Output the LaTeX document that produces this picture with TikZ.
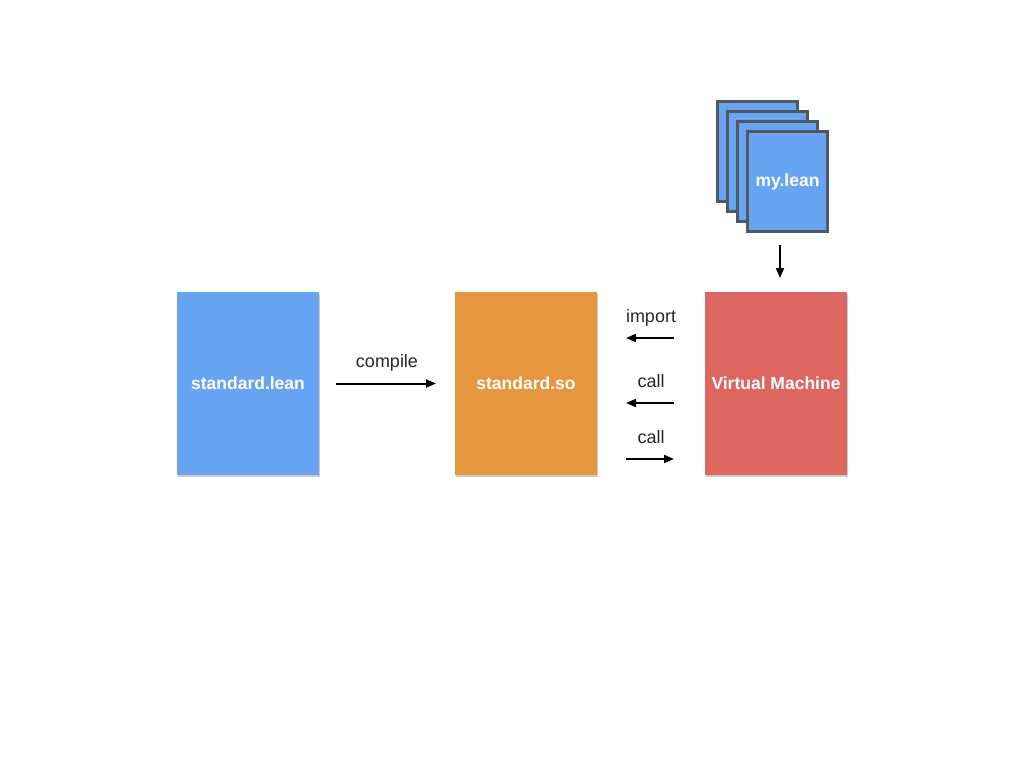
\documentclass[tikz,border=0pt]{standalone}
\usepackage{fontspec}
\setmainfont{Liberation Sans}
\usetikzlibrary{arrows.meta, positioning, shadows}

\definecolor{leanblue}{RGB}{103,164,242}
\definecolor{soorange}{RGB}{230,150,60}
\definecolor{vmred}{RGB}{221,103,96}
\definecolor{pageedge}{RGB}{80,88,98}

\tikzset{
    filebox/.style={rectangle, minimum width=142pt, minimum height=183pt, inner sep=0pt, outer sep=0pt,
        text=white, font=\fontsize{17.5}{20}\selectfont\bfseries,
        drop shadow={shadow xshift=1pt, shadow yshift=-2pt, opacity=0.4}},
    pagebox/.style={rectangle, draw=pageedge, line width=2.2pt, fill=leanblue,
        minimum width=80pt, minimum height=100pt, inner sep=0pt, outer sep=0pt,
        text=white, font=\fontsize{17.5}{20}\selectfont\bfseries},
    arr/.style={-{Triangle[length=10pt, width=8pt]}, line width=2pt},
    lbl/.style={anchor=base, yshift=16pt, font=\fontsize{18}{21}\selectfont, text=black!85}
}

\begin{document}
\begin{tikzpicture}[x=1pt, y=-1pt]
    \useasboundingbox (0,0) rectangle (1024,768);

    % Main boxes
    \node (lean) [filebox, fill=leanblue] at (248,383.5) {standard.lean};
    \node (so) [filebox, fill=soorange, right=136pt of lean] {standard.so};
    \node (vm) [filebox, fill=vmred, right=108pt of so] {Virtual Machine};

    % Stack of user files
    \foreach \i in {0,1,2}
        \node (my\i) [pagebox] at (757.5+10*\i, 151.5+10*\i) {};
    \node (my3) [pagebox] at (787.5,181.5) {\raisebox{-2pt}{my.lean}};

    % Connectors
    \draw[arr, shorten >=14pt] ([xshift=-7.5pt, yshift=-13pt]my3.south) -- ([xshift=-7.5pt]my3.south |- vm.north);
    \draw[arr, shorten <=17pt, shorten >=19pt] (lean) -- (so) node[lbl, midway] {compile};
    \draw[arr, shorten <=31pt, shorten >=29pt] ([yshift=45.5pt]vm.west) -- ([yshift=45.5pt]so.east)
        node[lbl, midway] {import};
    \draw[arr, shorten <=31pt, shorten >=29pt] ([yshift=-19.5pt]vm.west) -- ([yshift=-19.5pt]so.east)
        node[lbl, midway] {call};
    \draw[arr, shorten <=29pt, shorten >=31pt] ([yshift=-75.5pt]so.east) -- ([yshift=-75.5pt]vm.west)
        node[lbl, midway] {call};
\end{tikzpicture}
\end{document}
